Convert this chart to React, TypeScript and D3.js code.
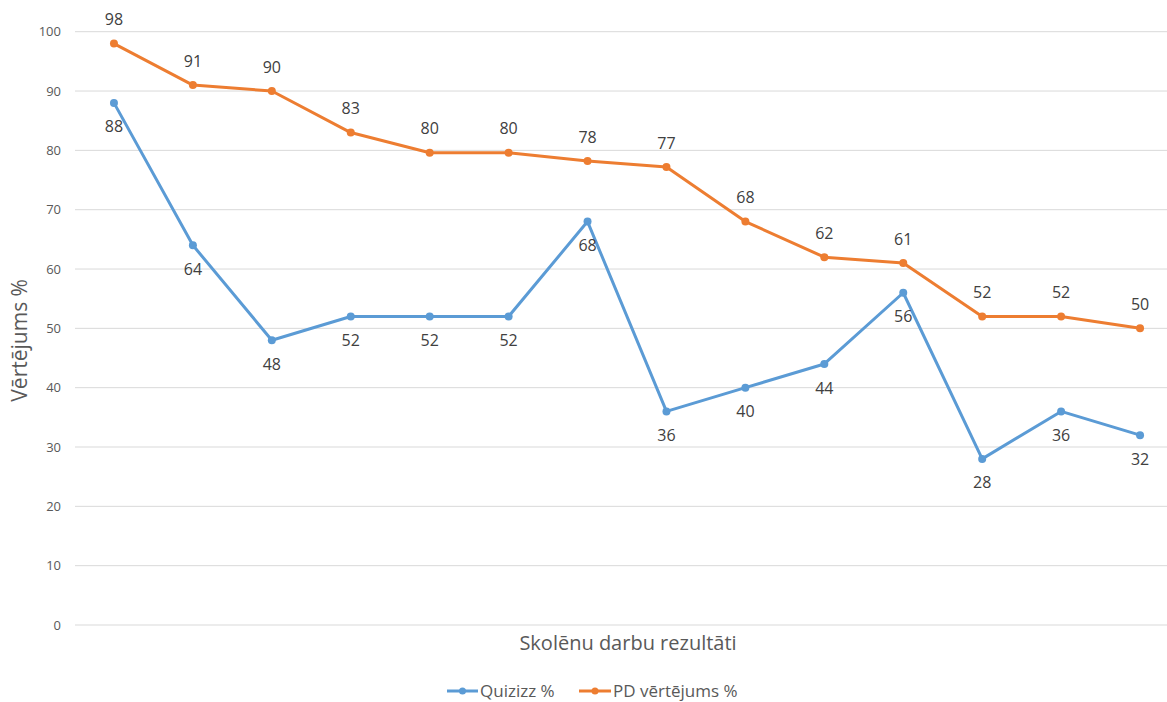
import React from "react";
import * as d3 from "d3";

const categories = ["1", "2", "3", "4", "5", "6", "7", "8", "9", "10", "11", "12", "13", "14"];
const quizizz = [88, 64, 48, 52, 52, 52, 68, 36, 40, 44, 56, 28, 36, 32];
const pdVertejums = [98, 91, 90, 83, 79.6, 79.6, 78.2, 77.2, 68, 62, 61, 52, 52, 50];
const yTicks = [0, 10, 20, 30, 40, 50, 60, 70, 80, 90, 100];

const W = 1167;
const H = 702;
const FONT = "'Open Sans', 'Liberation Sans', sans-serif";

export default function App() {
  const x = d3.scaleBand<string>().domain(categories).range([74.5, 1179.5]);
  const cx = (c: string) => (x(c) as number) + x.bandwidth() / 2;
  const y = d3.scaleLinear().domain([0, 100]).range([625, 31.7]);
  const line = d3
    .line<number>()
    .x((_, i) => cx(categories[i]))
    .y((d) => y(d));

  const series = [
    { name: "Quizizz %", values: quizizz, color: "#5b9bd5", below: true },
    { name: "PD vērtējums %", values: pdVertejums, color: "#ed7d31", below: false },
  ];

  return (
    <svg width={W} height={H} style={{ position: "absolute", left: 0, top: 0 }} fontFamily={FONT}>
      <rect width={W} height={H} fill="#fff" />
      {yTicks.map((t) => (
        <g key={t}>
          <line x1={75} x2={1167} y1={y(t)} y2={y(t)} stroke="#d9d9d9" strokeWidth={1} />
          <text x={61} y={y(t)} dy="0.35em" textAnchor="end" fontSize={13} fill="#595959">
            {t}
          </text>
        </g>
      ))}
      <text
        transform={`translate(20,${y(50) + 12}) rotate(-90)`}
        textAnchor="middle"
        dy="0.35em"
        fontSize={21}
        fill="#595959"
      >
        Vērtējums %
      </text>
      <text x={628} y={643} textAnchor="middle" dy="0.35em" fontSize={20} fill="#595959">
        Skolēnu darbu rezultāti
      </text>
      {series.map((s) => (
        <g key={s.name}>
          <path d={line(s.values) || ""} fill="none" stroke={s.color} strokeWidth={3} strokeLinejoin="round" />
          {s.values.map((v, i) => (
            <circle key={i} cx={cx(categories[i])} cy={y(v)} r={4} fill={s.color} />
          ))}
          {s.values.map((v, i) => (
            <text
              key={"l" + i}
              x={cx(categories[i])}
              y={y(v) + (s.below ? 24 : -24)}
              dy="0.35em"
              textAnchor="middle"
              fontSize={16}
              fill="#404040"
            >
              {Math.round(v)}
            </text>
          ))}
        </g>
      ))}
      {/* legend */}
      <g>
        <line x1={447} x2={478} y1={691} y2={691} stroke="#5b9bd5" strokeWidth={3} />
        <circle cx={462.5} cy={691} r={3.5} fill="#5b9bd5" />
        <text x={480} y={691} dy="0.35em" fontSize={17} fill="#595959">
          Quizizz %
        </text>
        <line x1={579} x2={611} y1={691} y2={691} stroke="#ed7d31" strokeWidth={3} />
        <circle cx={595} cy={691} r={3.5} fill="#ed7d31" />
        <text x={613} y={691} dy="0.35em" fontSize={17} fill="#595959">
          PD vērtējums %
        </text>
      </g>
    </svg>
  );
}
